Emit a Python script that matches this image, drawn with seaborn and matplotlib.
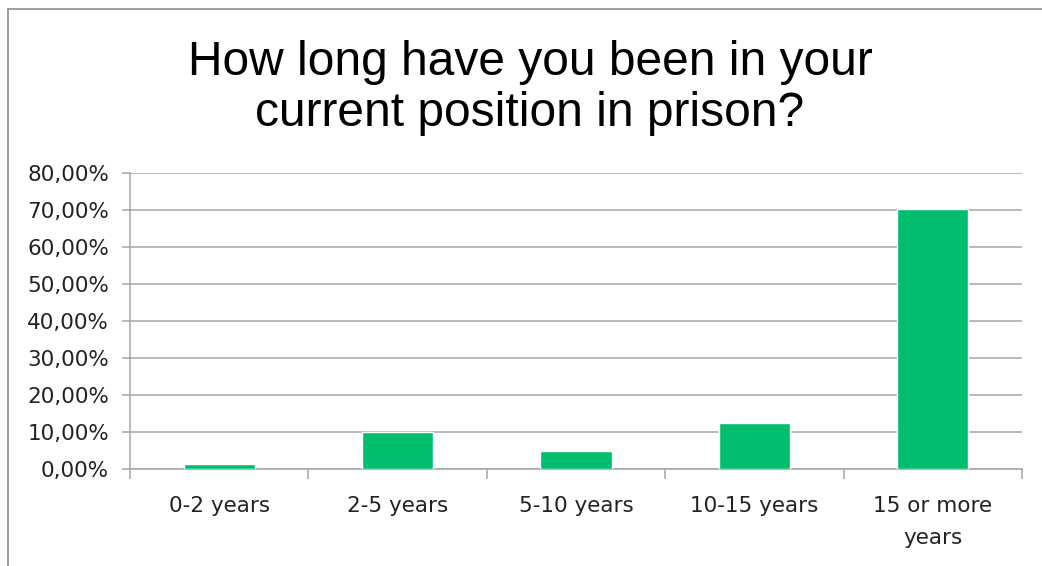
import numpy as np
import pandas as pd
import seaborn as sns
import matplotlib.pyplot as plt
from matplotlib.lines import Line2D
from matplotlib.ticker import FuncFormatter

categories = ["0-2 years", "2-5 years", "5-10 years", "10-15 years", "15 or more\nyears"]
shares = [1.5, 10.0, 4.9, 12.5, 70.3]
y_ticks = [0, 10, 20, 30, 40, 50, 60, 70, 80]

df = pd.DataFrame({"Duration": categories, "Share": shares})

sns.set_style("white")
plt.rcParams['font.family'] = ['DejaVu Sans']

fig = plt.figure(figsize=(10.42, 5.66), dpi=100)
ax = fig.add_axes([130 / 1042, 1 - 469.3 / 566, (1022 - 130) / 1042, (469.3 - 173.3) / 566])

sns.barplot(data=df, x="Duration", y="Share", color="#00BE6E", width=0.4,
            saturation=1, ax=ax, zorder=3)

ax.set_xlim(-0.5, 4.5)
ax.set_ylim(0, 80)
ax.set_yticks(y_ticks)
ax.yaxis.set_major_formatter(FuncFormatter(lambda v, p: f"{v:.2f}%".replace(".", ",")))
ax.grid(axis="y", color="#a6a6a6", linewidth=1.1, zorder=0)
ax.set_xlabel("")
ax.set_ylabel("")

for s in ["top", "right"]:
    ax.spines[s].set_visible(False)
for s in ["left", "bottom"]:
    ax.spines[s].set_color("#a6a6a6")
    ax.spines[s].set_linewidth(1.1)

ax.tick_params(axis="y", length=6, color="#a6a6a6", width=1.1, labelsize=15.5, pad=9, left=True)
ax.tick_params(axis="x", which="major", length=0, labelsize=15.5, pad=19)
ax.set_xticks(np.arange(-0.5, 5.0, 1.0), minor=True)
ax.tick_params(axis="x", which="minor", length=7, color="#a6a6a6", width=1.1, bottom=True)
for lab in ax.get_xticklabels():
    lab.set_linespacing(1.75)
for lab in ax.get_xticklabels() + ax.get_yticklabels():
    lab.set_color("#222222")

fig.text(530 / 1042, 1 - 88 / 566, "How long have you been in your\ncurrent position in prison?",
         ha="center", va="center", fontsize=34.5, linespacing=1.17, color="black",
         family=["Liberation Sans", "DejaVu Sans"])

# outer chart frame
fig.add_artist(Line2D([8 / 1042, 8 / 1042], [0, 1 - 9 / 566], transform=fig.transFigure,
                      color="#8c8c8c", linewidth=1.2))
fig.add_artist(Line2D([8 / 1042, 1], [1 - 9 / 566, 1 - 9 / 566], transform=fig.transFigure,
                      color="#8c8c8c", linewidth=1.2))

fig.savefig("out.png", dpi=100)
